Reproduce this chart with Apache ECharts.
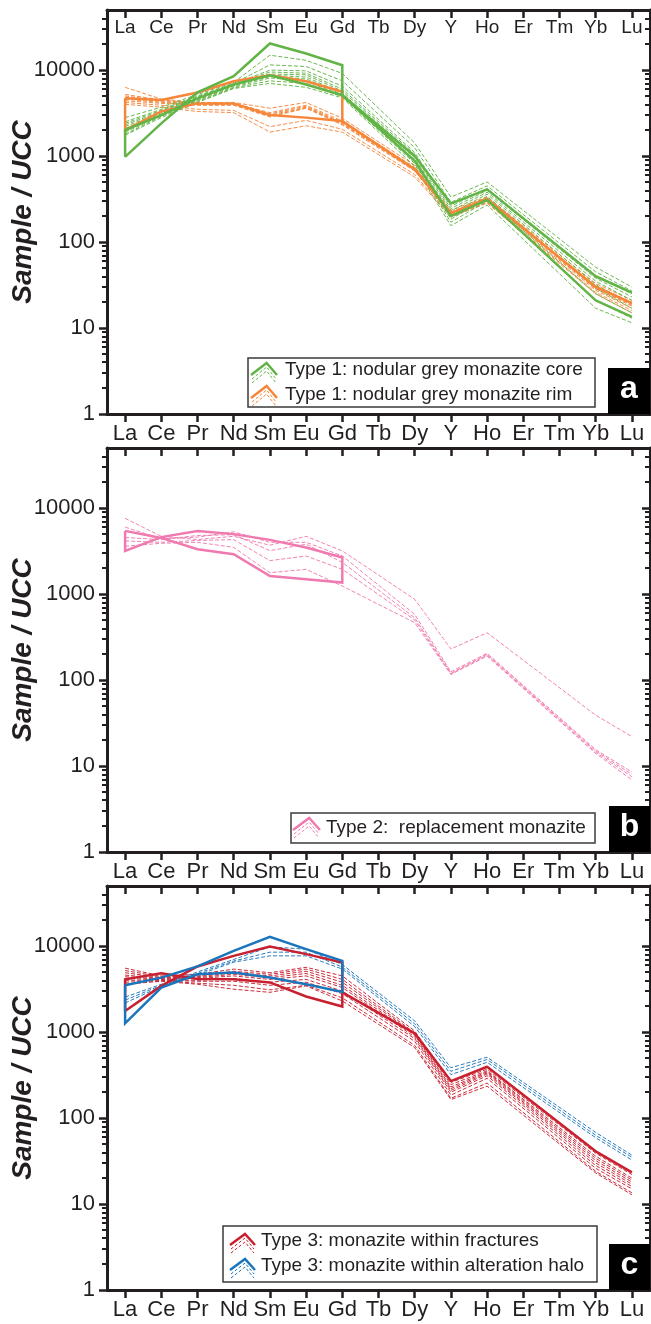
<!DOCTYPE html>
<html><head><meta charset="utf-8">
<script src="https://cdn.jsdelivr.net/npm/echarts@6/dist/echarts.min.js"></script>
<style>html,body{margin:0;padding:0;background:#fff}#chart{width:651px;height:1324px}</style>
</head><body><div id="chart"></div>
<script>
// ---------- categories / ticks ----------
const categories = ['La','Ce','Pr','Nd','Sm','Eu','Gd','Tb','Dy','Y','Ho','Er','Tm','Yb','Lu'];
const yTickLabels = [1, 10, 100, 1000, 10000];
const yMinorTicks = [2,3,4,5,6,7,8,9,20,30,40,50,60,70,80,90,200,300,400,500,600,700,800,900,
  2000,3000,4000,5000,6000,7000,8000,9000,20000,30000,40000];

// ---------- Panel a: Type 1 core (green) ----------
const coreEnvUpper = [980, 2400, 5500, 8500, 20400, 15600, 11400];   // La..Gd
const coreEnvLower = [2000, 3000, 4700, 6800, 8700, 6800, 5100];     // La..Gd
const coreSolid1 = [null,null,null,null,null,null,5100,null,1000,280,410,null,null,40,25.8];
const coreSolid2 = [null,null,null,null,null,null,5100,null,880,200,310,null,null,21,13.5];
const core1  = [2800,3700,5200,7200,14900,13000,9150,null,1420,334,500,null,null,51,30];
const core2  = [2500,3500,5000,7000,11500,11000,7500,null,1250,290,450,null,null,45,27];
const core3  = [2400,3400,4900,6900,10000,9800,6500,null,1100,260,420,null,null,40,25];
const core4  = [2300,3300,4800,6800,9500,9200,6000,null,1050,245,400,null,null,38,23];
const core5  = [2200,3200,4700,6700,9000,8800,5700,null,1000,230,380,null,null,35,21];
const core6  = [2100,3100,4600,6600,8700,8300,5400,null,950,215,360,null,null,32,19];
const core7  = [2000,3000,4500,6500,8400,7900,5200,null,900,200,340,null,null,29,17];
const core8  = [1900,2950,4400,6300,8100,7500,5000,null,860,185,320,null,null,25,15];
const core9  = [1800,2900,4300,6200,7500,7000,4900,null,820,170,300,null,null,21,13];
const core10 = [1750,2800,4200,6100,7000,6300,4750,null,760,155,270,null,null,17,11.5];

// ---------- Panel a: Type 1 rim (orange) ----------
const rimEnvUpper = [4690, 4500, 5500, 7400, 8700, 7400, 5600];
const rimEnvLower = [2000, 3300, 4100, 4100, 3000, 2800, 2550];
const rimSolid = [null,null,null,null,null,null,2550,null,700,217,320,null,null,30,19.5];
const rim1 = [6300,4600,4200,4200,3600,4200,2750,null,780,235,334,null,null,33,21];
const rim2 = [5200,4500,4100,4100,3200,3900,2550,null,740,225,325,null,null,31,20];
const rim3 = [5000,4400,4050,4050,3100,3800,2450,null,720,220,320,null,null,30,19];
const rim4 = [4800,4300,4000,4000,3000,3700,2400,null,700,215,315,null,null,29,18.5];
const rim5 = [4600,4200,3950,3950,2900,3650,2350,null,690,210,310,null,null,28.5,18];
const rim6 = [4400,4100,3900,3900,2850,3600,2300,null,670,205,300,null,null,27.5,17];
const rim7 = [4200,3900,3500,3400,2200,2600,2050,null,610,200,290,null,null,26,16];
const rim8 = [4000,3700,3300,3200,1900,2250,1900,null,570,195,283,null,null,25,15];

// ---------- Panel b: Type 2 replacement (pink) ----------
const replEnvA = [5430, 4500, 3320, 2910, 1620, 1490, 1360];
const replEnvB = [3180, 4600, 5430, 4980, 4270, 3480, 2660];
const repl1 = [7600,4700,4300,4700,3700,4700,3180,null,870,230,355,null,null,39,22];
const repl2 = [6000,4400,4600,5300,4000,4000,2780,null,580,125,205,null,null,15.5,8.5];
const repl3 = [4550,4300,4800,4900,3200,3800,2340,null,530,120,200,null,null,15,8];
const repl4 = [4150,4000,4200,4300,2450,2770,1940,null,500,118,195,null,null,14.5,7.5];
const repl5 = [3600,3900,4000,3500,1770,1940,1240,null,465,116,190,null,null,14,6.9];

// ---------- Panel c: Type 3 fractures (red) ----------
const fracEnvA = [1760, 3440, 5800, 7700, 9900, 8070, 6460];
const fracEnvB = [4120, 4840, 4150, 4120, 3780, 2590, 1980];
const fracSolid = [null,null,null,null,null,null,2900,null,967,269,395,null,null,41,23.3];
const frac1 = [5540,4500,4700,5400,4900,5670,4500,null,1030,260,370,null,null,39,22];
const frac2 = [5200,4400,4500,5100,4700,5400,4100,null,980,245,355,null,null,36,20];
const frac3 = [4900,4300,4400,4900,4500,5100,3800,null,950,230,345,null,null,34,19];
const frac4 = [4600,4200,4300,4700,4300,4800,3500,null,920,220,335,null,null,32,18];
const frac5 = [4400,4100,4200,4500,4100,4500,3300,null,880,210,325,null,null,30,17];
const frac6 = [4200,4050,4000,4200,3800,4100,3000,null,840,200,310,null,null,28,16];
const frac7 = [4000,4000,3900,3900,3500,3800,2800,null,780,185,290,null,null,26,15];
const frac8 = [3800,3950,3700,3500,3100,3500,2500,null,700,170,255,null,null,24,13.5];
const frac9 = [3600,3900,3600,3150,2900,3440,2300,null,660,164,235,null,null,23,12.8];

// ---------- Panel c: Type 3 alteration halo (blue) ----------
const haloEnvA = [3510, 4300, 5800, 8810, 12850, 9230, 6740];
const haloEnvB = [1265, 3300, 4710, 4930, 4310, 3600, 2930];
const halo1 = [2550,3600,5000,7000,9800,9200,6100,null,1350,385,510,null,null,68,37];
const halo2 = [2350,3500,4800,6700,8500,8500,5700,null,1250,350,480,null,null,63,35];
const halo3 = [2180,3400,4600,6500,7700,7700,5400,null,1160,320,445,null,null,59,32.5];

// ---------- styling ----------
const FONT = '"Liberation Sans", Arial, Helvetica, sans-serif';
const INK = '#231f20';
const GREEN = '#62b447', ORANGE = '#f5863a', PINK = '#f07aaf', RED = '#c8202f', BLUE = '#1a75bc';
const grids = [
  {left:107, top:10, width:543, height:404, outerBoundsMode:'none', containLabel:false},
  {left:107, top:448, width:543, height:404, outerBoundsMode:'none', containLabel:false},
  {left:107, top:886, width:543, height:404, outerBoundsMode:'none', containLabel:false}
];

const xAxes = [], yAxes = [];
grids.forEach((g, p) => {
  xAxes.push({type:'category', gridIndex:p, data:categories, position:'bottom', boundaryGap:true,
    axisLine:{show:true, onZero:false, lineStyle:{color:INK, width:3}},
    axisTick:{show:true, alignWithLabel:true, interval:0, inside:false, length:8, lineStyle:{color:INK, width:2.5}},
    axisLabel:{show:true, interval:0, margin:9, fontSize:22, color:INK, fontFamily:FONT},
    splitLine:{show:false}});
  xAxes.push({type:'category', gridIndex:p, data:categories, position:'top', boundaryGap:true,
    axisLine:{show:true, onZero:false, lineStyle:{color:INK, width:3}},
    axisTick:{show:true, alignWithLabel:true, interval:0, inside:true, length:8, lineStyle:{color:INK, width:2.5}},
    axisLabel:{show:p === 0, inside:true, interval:0, margin:8, fontSize:19, color:INK, fontFamily:FONT},
    splitLine:{show:false}});
  const base = {type:'log', logBase:10, gridIndex:p, min:1, max:50000, splitLine:{show:false}};
  yAxes.push(Object.assign({}, base, {position:'left',
    axisLine:{show:true, onZero:false, lineStyle:{color:INK, width:3}},
    axisTick:{show:true, inside:false, length:8, customValues:yTickLabels, lineStyle:{color:INK, width:2.5}},
    axisLabel:{show:true, customValues:yTickLabels, margin:12, fontSize:22, color:INK, fontFamily:FONT,
      formatter:v => String(Math.round(v))},
    name:'Sample / UCC', nameLocation:'middle', nameGap:70, nameMoveOverlap:false,
    nameTextStyle:{fontSize:28, fontWeight:'bold', fontStyle:'italic', color:INK, fontFamily:FONT}}));
  yAxes.push(Object.assign({}, base, {position:'left',
    axisLine:{show:false}, axisLabel:{show:false},
    axisTick:{show:true, inside:false, length:5, customValues:yMinorTicks, lineStyle:{color:INK, width:2}}}));
  yAxes.push(Object.assign({}, base, {position:'right',
    axisLine:{show:true, onZero:false, lineStyle:{color:INK, width:3}}, axisLabel:{show:false},
    axisTick:{show:true, inside:true, length:8, customValues:yTickLabels, lineStyle:{color:INK, width:2.5}}}));
  yAxes.push(Object.assign({}, base, {position:'right',
    axisLine:{show:false}, axisLabel:{show:false},
    axisTick:{show:true, inside:true, length:5, customValues:yMinorTicks, lineStyle:{color:INK, width:2}}}));
});

const series = [];
function dashed(p, arr, color) {
  series.push({type:'line', xAxisIndex:p*2, yAxisIndex:p*4, data:arr, connectNulls:true,
    symbol:'none', silent:true, animation:false,
    lineStyle:{color:color, width:1, type:[4,2], opacity:0.95}});
}
function solid(p, arr, color) {
  series.push({type:'line', xAxisIndex:p*2, yAxisIndex:p*4, data:arr, connectNulls:true,
    symbol:'none', silent:true, animation:false, lineStyle:{color:color, width:2.5}});
}
function envelope(p, a, b, color) {
  const pts = a.map((v, i) => [i, v]);
  for (let i = b.length - 1; i >= 0; i--) pts.push([i, b[i]]);
  pts.push([0, a[0]]);
  series.push({type:'line', xAxisIndex:p*2, yAxisIndex:p*4, data:pts, symbol:'none',
    silent:true, animation:false, lineStyle:{color:color, width:2.5, join:'miter'}});
}

// panel a
[rim1,rim2,rim3,rim4,rim5,rim6,rim7,rim8].forEach(s => dashed(0, s, ORANGE));
[core1,core2,core3,core4,core5,core6,core7,core8,core9,core10].forEach(s => dashed(0, s, GREEN));
solid(0, rimSolid, ORANGE);
envelope(0, rimEnvUpper, rimEnvLower, ORANGE);
solid(0, coreSolid1, GREEN);
solid(0, coreSolid2, GREEN);
envelope(0, coreEnvUpper, coreEnvLower, GREEN);
// panel b
[repl1,repl2,repl3,repl4,repl5].forEach(s => dashed(1, s, PINK));
envelope(1, replEnvA, replEnvB, PINK);
// panel c
[frac1,frac2,frac3,frac4,frac5,frac6,frac7,frac8,frac9].forEach(s => dashed(2, s, RED));
[halo1,halo2,halo3].forEach(s => dashed(2, s, BLUE));
solid(2, fracSolid, RED);
envelope(2, fracEnvA, fracEnvB, RED);
envelope(2, haloEnvA, haloEnvB, BLUE);

// ---------- legends & panel letters (graphic) ----------
const graphic = [];
function legendBox(x, y, w, h) {
  graphic.push({type:'rect', shape:{x, y, width:w, height:h}, z:50,
    style:{fill:'#fff', stroke:'#3a3a3a', lineWidth:1.5}});
}
function chevron(x0, yBase, w, h, color) {
  const xm = x0 + w * 0.6;
  graphic.push({type:'polyline', z:51, shape:{points:[[x0, yBase], [xm, yBase - h], [x0 + w, yBase]]},
    style:{stroke:color, lineWidth:2.5, fill:null}});
  [4, 8].forEach(d => graphic.push({type:'polyline', z:51,
    shape:{points:[[x0 + 1, yBase + d], [xm, yBase - h + d], [x0 + w - 1, yBase + d]]},
    style:{stroke:color, lineWidth:1, lineDash:[3,2], fill:null}}));
}
function legendText(x, y, t) {
  graphic.push({type:'text', z:52, style:{text:t, x, y, fill:INK, font:'19px ' + FONT, verticalAlign:'middle', align:'left'}});
}
function letterBox(x, y, w, h, t) {
  graphic.push({type:'rect', z:53, shape:{x, y, width:w, height:h}, style:{fill:'#000'}});
  graphic.push({type:'text', z:54, style:{text:t, x:x + w/2, y:y + h/2 - 2, fill:'#fff',
    font:'bold 32px ' + FONT, align:'center', verticalAlign:'middle'}});
}
legendBox(248, 358, 347, 49);
chevron(251, 375, 26, 12, GREEN);  legendText(285, 370, 'Type 1: nodular grey monazite core');
chevron(251, 398, 26, 12, ORANGE); legendText(285, 395, 'Type 1: nodular grey monazite rim');
letterBox(608, 368, 42, 46, 'a');

legendBox(291, 813, 304, 30);
chevron(293, 830, 27, 12, PINK); legendText(326, 828, 'Type 2:  replacement monazite');
letterBox(609, 806, 41, 46, 'b');

legendBox(223, 1226, 374, 56);
chevron(230, 1245, 25, 11, RED);  legendText(261, 1241, 'Type 3: monazite within fractures');
chevron(230, 1270, 25, 11, BLUE); legendText(261, 1266, 'Type 3: monazite within alteration halo');
letterBox(609, 1244, 41, 46, 'c');

const chart = echarts.init(document.getElementById('chart'), null, {renderer:'canvas'});
chart.setOption({
  animation:false,
  backgroundColor:'#fff',
  textStyle:{fontFamily:FONT},
  grid:grids,
  xAxis:xAxes,
  yAxis:yAxes,
  series:series,
  graphic:graphic
});
</script></body></html>
